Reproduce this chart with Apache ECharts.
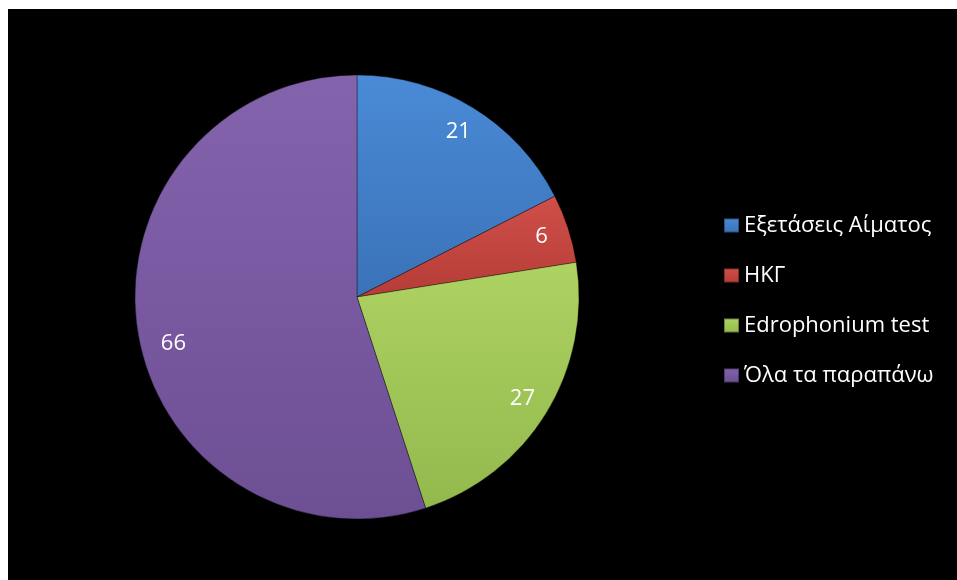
<!DOCTYPE html>
<html>
<head>
<meta charset="utf-8">
<script src="https://cdn.jsdelivr.net/npm/echarts@6/dist/echarts.min.js"></script>
<style>
  html, body { margin: 0; padding: 0; background: #ffffff; width: 957px; height: 580px; overflow: hidden; }
  #chart { position: absolute; left: 8px; top: 9px; width: 949px; height: 571px; }
</style>
</head>
<body>
<div id="chart"></div>
<script>
// Answers and their counts
const categories = ['Εξετάσεις Αίματος', 'ΗΚΓ', 'Edrophonium test', 'Όλα τα παραπάνω'];
const counts = [21, 6, 27, 66];

// Slice fills: [light, dark] for a soft vertical shading
const shades = [
  ['#4a8ad6', '#3a72b8'],
  ['#d04f48', '#b53c37'],
  ['#aed363', '#93b84c'],
  ['#8463ad', '#6d4f94']
];
const legendColors = ['#3f7cc4', '#c6453f', '#a2c55a', '#7858a0'];

const chart = echarts.init(document.getElementById('chart'));

const center = [349, 288];
const R = 222;
const FONT = 'Open Sans';

const sliceData = categories.map((name, i) => ({
  name,
  value: counts[i],
  itemStyle: {
    color: new echarts.graphic.LinearGradient(0, 0, 0, 1, [
      { offset: 0, color: shades[i][0] },
      { offset: 1, color: shades[i][1] }
    ])
  }
}));

// Ring used only to place the value labels near the rim
const labelData = categories.map((name, i) => ({
  name,
  value: counts[i],
  label: i === 3 ? { offset: [8, 16] } : {}
}));

chart.setOption({
  backgroundColor: '#000000',
  animation: false,
  color: legendColors,
  legend: {
    orient: 'vertical',
    left: 710,
    top: 200,
    itemWidth: 15,
    itemHeight: 14,
    itemGap: 27,
    icon: 'rect',
    data: categories,
    textStyle: { color: '#ffffff', fontSize: 22, fontFamily: FONT, lineHeight: 23 },
    inactiveColor: '#555'
  },
  series: [
    {
      type: 'pie',
      center: center,
      radius: [0, R],
      startAngle: 90,
      clockwise: true,
      silent: true,
      label: { show: false },
      labelLine: { show: false },
      itemStyle: { borderColor: 'rgba(0,0,0,0.35)', borderWidth: 1 },
      data: sliceData
    },
    {
      type: 'pie',
      center: center,
      radius: [160, R],
      startAngle: 90,
      clockwise: true,
      silent: true,
      legendHoverLink: false,
      itemStyle: { color: 'rgba(0,0,0,0)' },
      label: {
        show: true,
        position: 'inside',
        formatter: '{c}',
        color: '#ffffff',
        fontSize: 22,
        fontFamily: FONT
      },
      labelLine: { show: false },
      data: labelData
    }
  ]
});
</script>
</body>
</html>
